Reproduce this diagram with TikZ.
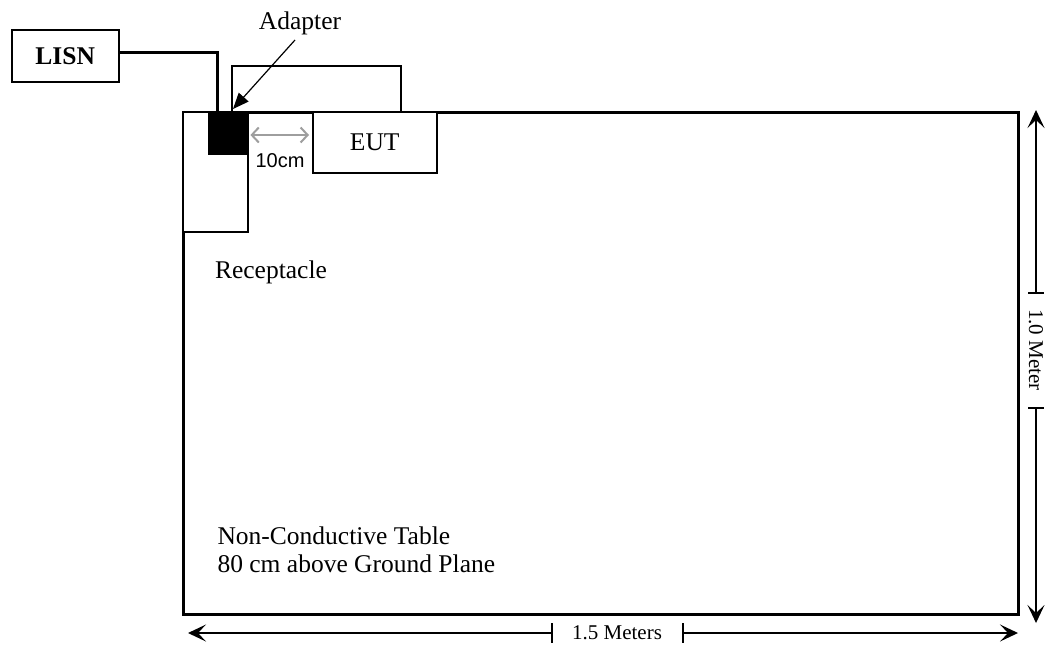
\documentclass[tikz,border=0pt]{standalone}
\usepackage{fontspec}
\setmainfont{Liberation Serif}
\newfontfamily\arialfont{Liberation Sans}
\usetikzlibrary{arrows.meta,positioning}

\tikzset{
  big/.style={font=\fontsize{25.5}{28}\selectfont},
  small/.style={font=\fontsize{21}{24}\selectfont},
  box/.style={draw, line width=1.5pt, inner sep=0pt, anchor=north west, fill=white},
  cable/.style={line width=3pt},
  wire/.style={line width=1.5pt},
  dimline/.style={line width=1.3pt, -{Stealth[length=18pt,width=17pt,inset=8pt]}},
  gaparrow/.style={line width=2pt, color=black!38, {Straight Barb[length=7pt,width=15pt]}-{Straight Barb[length=7pt,width=15pt]}}
}

\begin{document}
\begin{tikzpicture}[x=1pt,y=-1pt]
  \useasboundingbox (0,0) rectangle (1048,646);

  % table and parts on it
  \node[draw, line width=3.2pt, inner sep=0pt, anchor=north west,
        minimum width=835pt, minimum height=502pt] (table) at (182,111) {};
  \node[box, minimum width=65pt, minimum height=120pt] (recep) at (182,111) {};
  \node[fill=black, inner sep=0pt, anchor=north west,
        minimum width=39pt, minimum height=44pt] (adapter) at (208,111) {};
  \node[box, big, minimum width=124pt, minimum height=61pt] (eut) at (312,111) {EUT};
  \node[box, big, minimum width=107pt, minimum height=52pt] (lisn) at (11,29) {\bfseries LISN};

  % cables
  \coordinate (plug) at (217,111);
  \draw[cable] (lisn.east) ++(0,-3) -| (plug);
  \coordinate (adapterout) at (232,111);
  \coordinate (eutin) at (401,111);
  \draw[wire] (adapterout) |- (401,66) -- (eutin);

  % labels
  \node[big] (adapterlbl) at (300,23) {Adapter};
  \coordinate (adapterptr) at (233,109);
  \draw[line width=1.2pt, -{Triangle[length=16pt,width=13pt]}] (295,40) -- (adapterptr);
  \draw[gaparrow] ([xshift=3pt]adapter.east |- 0,135) -- ([xshift=-3pt]eut.west |- 0,135);
  \node[font=\arialfont\fontsize{20}{24}\selectfont] (gaplbl) at (280,161) {10cm};
  \node[big] (receplbl) at (271,272) {Receptacle};
  \node[big, anchor=west, align=left] (tablelbl) at (214,549.5)
    {Non-Conductive Table\\80 cm above Ground Plane};

  % dimensions
  \node[small, rotate=-90] (vlbl) at (1036,350) {1.0 Meter};
  \draw[dimline] (1036,293) -- (1036,110);
  \draw[dimline] (1036,408) -- (1036,623);
  \foreach \y in {293, 408} {
    \draw[line width=1.3pt] (1028,\y) -- (1044,\y);
  }
  \node[small] (hlbl) at (617,633) {1.5 Meters};
  \draw[dimline] (552,633) -- (188,633);
  \draw[dimline] (683,633) -- (1018,633);
  \foreach \x in {552, 683} {
    \draw[line width=1.3pt] (\x,623) -- (\x,643);
  }
\end{tikzpicture}
\end{document}
